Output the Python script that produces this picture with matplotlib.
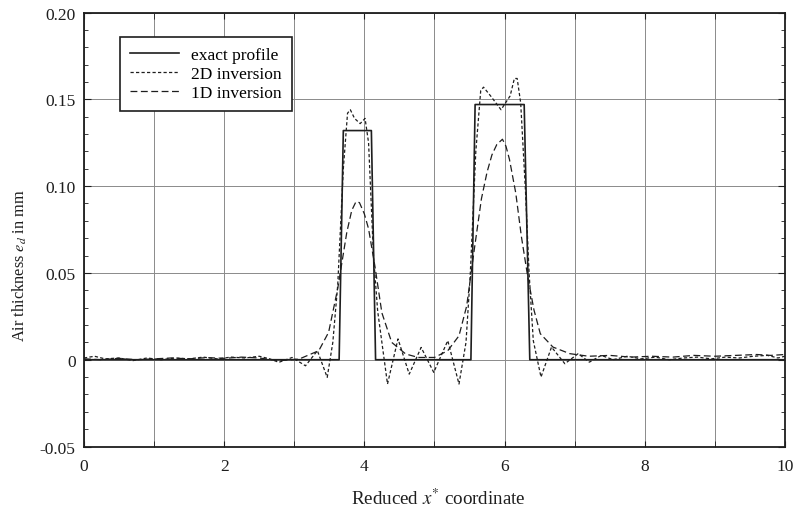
"""Air thickness profile: exact vs 2D / 1D inversion."""

import numpy as np
import matplotlib

matplotlib.use("Agg")
import matplotlib.pyplot as plt
from matplotlib.ticker import MultipleLocator

# exact (step) profile
x_exact = [0.0, 3.64, 3.70, 4.10, 4.16, 5.52, 5.58, 6.28, 6.36, 10.0]
y_exact = [0.0, 0.0, 0.132, 0.132, 0.0, 0.0, 0.147, 0.147, 0.0, 0.0]

# 2D inversion
x_2d = [0.0, 0.15, 0.3, 0.5, 0.7, 0.9, 1.1, 1.3, 1.5, 1.7, 1.9, 2.1, 2.3,
        2.5, 2.65, 2.78, 2.97, 3.16, 3.33, 3.47, 3.55, 3.62, 3.70, 3.76,
        3.80, 3.86, 3.94, 4.01, 4.06, 4.13, 4.19, 4.33, 4.48, 4.64, 4.81,
        4.99, 5.19, 5.35, 5.45, 5.51, 5.59, 5.66, 5.70, 5.80, 5.95, 6.08,
        6.14, 6.18, 6.23, 6.30, 6.35, 6.41, 6.52, 6.67, 6.86, 7.05, 7.21,
        7.38, 7.55, 7.75, 7.95, 8.15, 8.35, 8.55, 8.75, 8.95, 9.15, 9.35,
        9.55, 9.75, 9.9, 10.0]
y_2d = [0.001, 0.002, 0.0005, 0.001, -0.0005, 0.001, 0.0, 0.001, 0.0005,
        0.0015, 0.0005, 0.0015, 0.001, 0.002, 0.0005, -0.0015, 0.0013,
        -0.0035, 0.0052, -0.0102, 0.010, 0.043, 0.110, 0.142, 0.144, 0.139,
        0.136, 0.139, 0.125, 0.060, 0.028, -0.014, 0.012, -0.0083, 0.0071,
        -0.0073, 0.011, -0.014, 0.010, 0.0485, 0.120, 0.155, 0.157, 0.152,
        0.144, 0.152, 0.162, 0.162, 0.148, 0.096, 0.050, 0.011, -0.010,
        0.0073, -0.0023, 0.0035, -0.0014, 0.0025, 0.0, 0.002, 0.0005, 0.0015,
        0.0, 0.001, 0.0015, 0.0005, 0.0015, 0.001, 0.002, 0.0025, 0.001, 0.002]

# 1D inversion
x_1d = [0.0, 0.25, 0.5, 0.75, 1.0, 1.25, 1.5, 1.75, 2.0, 2.25, 2.5, 2.78,
        3.07, 3.35, 3.49, 3.62, 3.75, 3.82, 3.88, 3.93, 4.00, 4.06, 4.15,
        4.25, 4.39, 4.59, 4.77, 5.0, 5.19, 5.35, 5.46, 5.57, 5.67, 5.75,
        5.82, 5.89, 5.97, 6.02, 6.07, 6.16, 6.24, 6.33, 6.42, 6.51, 6.69,
        6.93, 7.2, 7.5, 7.8, 8.1, 8.4, 8.7, 9.0, 9.3, 9.6, 9.8, 10.0]
y_1d = [0.0005, 0.0, 0.0008, 0.0, 0.0005, 0.001, 0.0005, 0.0012, 0.0008,
        0.0015, 0.001, -0.0006, 0.0004, 0.0052, 0.0158, 0.041, 0.0735,
        0.086, 0.091, 0.0905, 0.084, 0.0754, 0.054, 0.027, 0.010, 0.0033,
        0.0013, 0.0013, 0.0052, 0.0138, 0.031, 0.064, 0.0927, 0.108, 0.118,
        0.124, 0.127, 0.123, 0.1154, 0.096, 0.071, 0.048, 0.0286, 0.015,
        0.0073, 0.0035, 0.002, 0.0025, 0.0015, 0.002, 0.0015, 0.0025, 0.002,
        0.0025, 0.003, 0.0025, 0.003]

yticks = [-0.05, 0.0, 0.05, 0.10, 0.15, 0.20]
ytick_labels = ["-0.05", "0", "0.05", "0.10", "0.15", "0.20"]
xticks = [0, 2, 4, 6, 8, 10]

INK = "#1e1e1e"

plt.rcParams["font.family"] = ["Liberation Serif", "DejaVu Serif"]
plt.rcParams["mathtext.fontset"] = "stix"

fig = plt.figure(figsize=(7.99, 5.10), dpi=100)
ax = fig.add_axes([0.1051, 0.1225, 0.8773, 0.851])

ax.plot(x_exact, y_exact, color=INK, lw=1.2, label="exact profile")
ax.plot(x_2d, y_2d, color=INK, lw=0.9, dashes=(2.6, 1.8), label="2D inversion")
ax.plot(x_1d, y_1d, color=INK, lw=0.9, dashes=(5.5, 2.8), label="1D inversion")

ax.set_xlim(0, 10)
ax.set_ylim(-0.05, 0.20)
ax.set_xticks(xticks)
ax.xaxis.set_minor_locator(MultipleLocator(1))
ax.set_yticks(yticks)
ax.set_yticklabels(ytick_labels)
ax.yaxis.set_minor_locator(MultipleLocator(0.01))

ax.tick_params(which="both", direction="in", top=True, right=True,
               labelsize=12.5, colors=INK)
ax.tick_params(axis="x", which="major", length=4, pad=8)
ax.tick_params(axis="x", which="minor", length=4)
ax.tick_params(axis="y", which="major", length=5, pad=6)
ax.tick_params(axis="y", which="minor", length=3)

ax.xaxis.grid(True, which="both", color="#8a8a8a", lw=0.7)
ax.yaxis.grid(True, which="major", color="#8a8a8a", lw=0.7)
ax.set_axisbelow(True)
for s in ax.spines.values():
    s.set_color(INK)
    s.set_linewidth(1.3)

ax.set_xlabel(r"Reduced $x^{*}$ coordinate", fontsize=13.7, color=INK)
ax.set_ylabel(r"Air thickness $e_d$ in mm", fontsize=11.8, color=INK)
ax.xaxis.set_label_coords(0.505, -0.095)
ax.yaxis.set_label_coords(-0.078, 0.42)

leg = ax.legend(loc="upper left", bbox_to_anchor=(0.051, 0.944),
                fontsize=12.5, frameon=True, fancybox=False, framealpha=1,
                handlelength=2.8, handletextpad=0.7, labelspacing=0.15,
                borderpad=0.6, borderaxespad=0)
leg.get_frame().set_edgecolor(INK)
leg.get_frame().set_linewidth(1.2)

fig.savefig("out.png", dpi=100)
